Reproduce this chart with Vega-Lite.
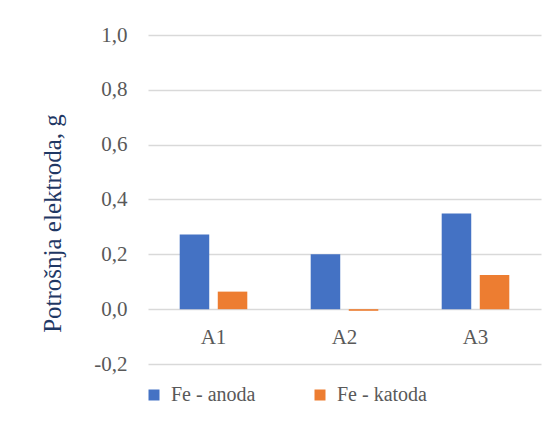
{
  "$schema": "https://vega.github.io/schema/vega-lite/v6.json",
  "autosize": "none",
  "width": 393,
  "height": 329,
  "padding": {"left": 148, "top": 35, "right": 9, "bottom": 81},
  "background": "white",
  "data": {
    "values": [
      {"uzorak": "A1", "serija": "Fe - anoda", "potrosnja": 0.272},
      {"uzorak": "A1", "serija": "Fe - katoda", "potrosnja": 0.064},
      {"uzorak": "A2", "serija": "Fe - anoda", "potrosnja": 0.2},
      {"uzorak": "A2", "serija": "Fe - katoda", "potrosnja": -0.006},
      {"uzorak": "A3", "serija": "Fe - anoda", "potrosnja": 0.349},
      {"uzorak": "A3", "serija": "Fe - katoda", "potrosnja": 0.125}
    ]
  },
  "mark": {"type": "bar"},
  "encoding": {
    "x": {
      "field": "uzorak",
      "type": "nominal",
      "scale": {"paddingInner": 0.484, "paddingOuter": 0.242},
      "axis": {
        "title": null,
        "offset": -55,
        "domain": false,
        "ticks": false,
        "labelAngle": 0,
        "labelPadding": 17
      }
    },
    "xOffset": {
      "field": "serija",
      "type": "nominal",
      "scale": {"paddingInner": 0.224, "paddingOuter": 0}
    },
    "y": {
      "field": "potrosnja",
      "type": "quantitative",
      "scale": {"domain": [-0.2, 1.0], "nice": false, "zero": false},
      "axis": {
        "title": "Potrošnja elektroda, g",
        "titleX": -96,
        "titleY": 188,
        "titleBaseline": "middle",
        "titleAngle": -90,
        "values": [-0.2, 0, 0.2, 0.4, 0.6, 0.8, 1.0],
        "labelExpr": "replace(replace(format(datum.value, '.1f'), '.', ','), '\u2212', '-')",
        "labelPadding": 21,
        "domain": false,
        "ticks": false,
        "grid": true,
        "gridColor": "#d9d9d9",
        "gridWidth": 1.3
      }
    },
    "color": {
      "field": "serija",
      "type": "nominal",
      "scale": {"domain": ["Fe - anoda", "Fe - katoda"], "range": ["#4472C4", "#ED7D31"]},
      "legend": {
        "title": null,
        "orient": "none",
        "direction": "horizontal",
        "legendX": -4,
        "legendY": 350,
        "symbolType": "square",
        "symbolSize": 121,
        "symbolStrokeWidth": 0,
        "labelOffset": 7,
        "columnPadding": 54
      }
    }
  },
  "config": {
    "font": "Liberation Serif",
    "view": {"stroke": null},
    "axis": {
      "labelFont": "Liberation Serif",
      "labelFontSize": 21,
      "labelColor": "#595959",
      "titleFont": "Liberation Serif",
      "titleFontSize": 25,
      "titleFontWeight": "normal",
      "titleColor": "#1F3864"
    },
    "legend": {
      "labelFont": "Liberation Serif",
      "labelFontSize": 20,
      "labelColor": "#595959",
      "labelLimit": 300
    }
  }
}
